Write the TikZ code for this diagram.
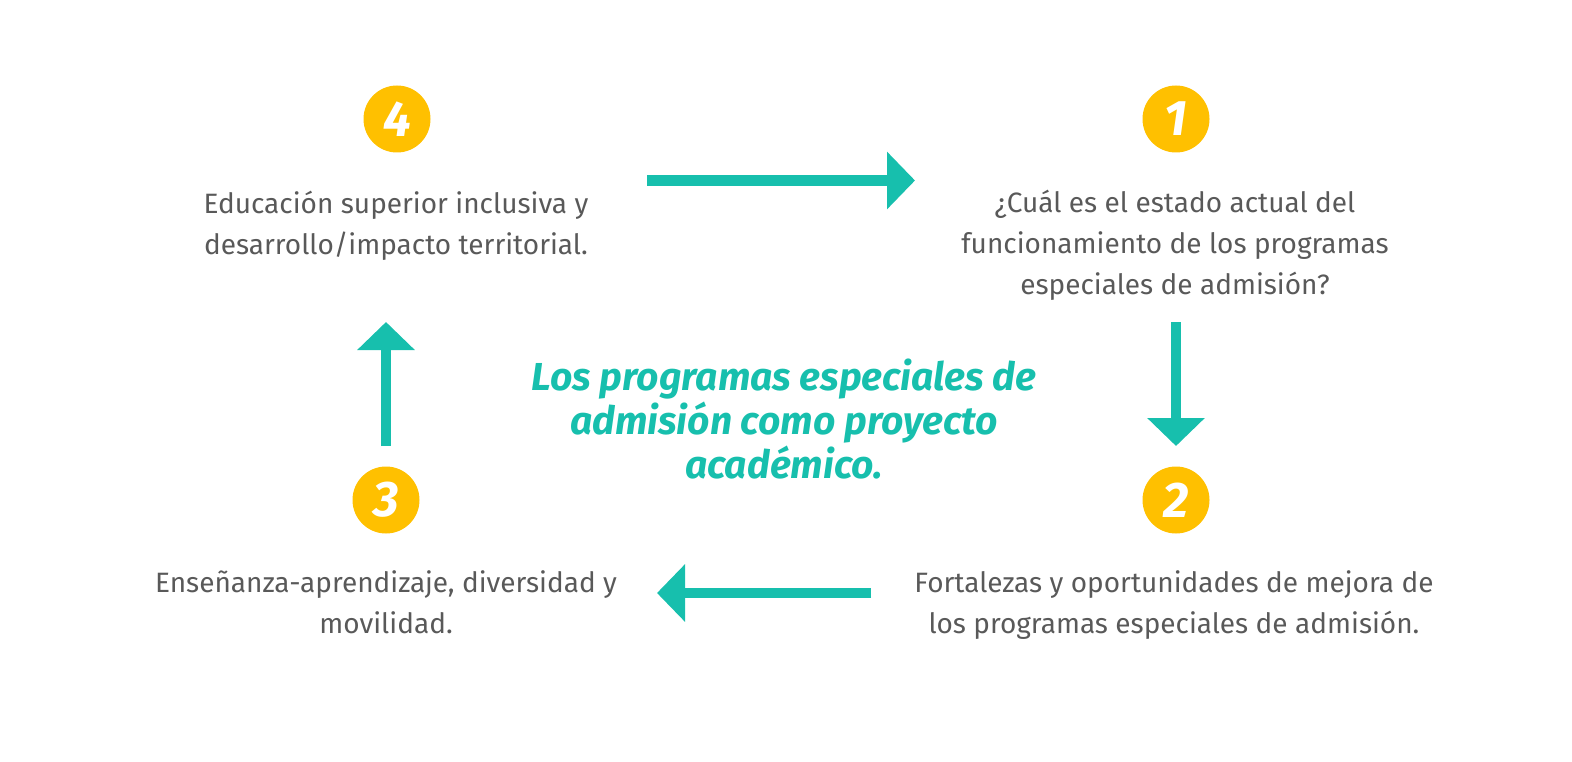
\documentclass[tikz,border=0pt]{standalone}
\usepackage{fontspec}
\setmainfont{Fira Sans}
\usetikzlibrary{arrows.meta}
\definecolor{teal1}{HTML}{17BFAD}
\definecolor{gold1}{HTML}{FFC000}
\definecolor{gray1}{HTML}{595959}
\tikzset{
  numcirc/.style={circle, fill=gold1, minimum size=67pt, inner sep=0pt, text=white,
    font=\fontsize{50}{50}\selectfont\bfseries\itshape},
  bodytext/.style={align=center, inner sep=0pt, text=gray1,
    font=\fontsize{28}{41}\selectfont},
  titletext/.style={align=center, inner sep=0pt, text=teal1,
    font=\fontsize{39}{44}\selectfont\bfseries\itshape},
  flow/.style={draw=teal1, line width=10.5pt, -{Triangle[width=56pt,length=28pt]}}
}
\begin{document}
\begin{tikzpicture}[x=1pt,y=-1pt]
\useasboundingbox (0,0) rectangle (1572,762);
% numbered circles
\node[numcirc] (n4) at (397,119) {4};
\node[numcirc] (n1) at (1176,119) {1};
\node[numcirc] (n3) at (386,500) {3};
\node[numcirc] (n2) at (1176,500) {2};
% texts
\node[bodytext] (t4) at (396,226) {Educación superior inclusiva y\\desarrollo/impacto territorial.};
\node[bodytext] (t1) at (1175,245) {¿Cuál es el estado actual del\\funcionamiento de los programas\\especiales de admisión?};
\node[bodytext] (t3) at (386,602) {Enseñanza-aprendizaje, diversidad y\\movilidad.};
\node[bodytext] (t2) at (1174,605) {Fortalezas y oportunidades de mejora de\\los programas especiales de admisión.};
\node[titletext] (title) at (784,419) {Los programas especiales de\\admisión como proyecto\\académico.};
% arrow end points
\coordinate (a41s) at (647,180.5);
\coordinate (a41e) at (915,180.5);
\coordinate (a12s) at (1176,322);
\coordinate (a12e) at (1176,446);
\coordinate (a23s) at (871,593);
\coordinate (a23e) at (657,593);
\coordinate (a34s) at (386,446);
\coordinate (a34e) at (386,322);
\draw[flow] (a41s) -- (a41e);
\draw[flow] (a12s) -- (a12e);
\draw[flow] (a23s) -- (a23e);
\draw[flow] (a34s) -- (a34e);
\end{tikzpicture}
\end{document}
